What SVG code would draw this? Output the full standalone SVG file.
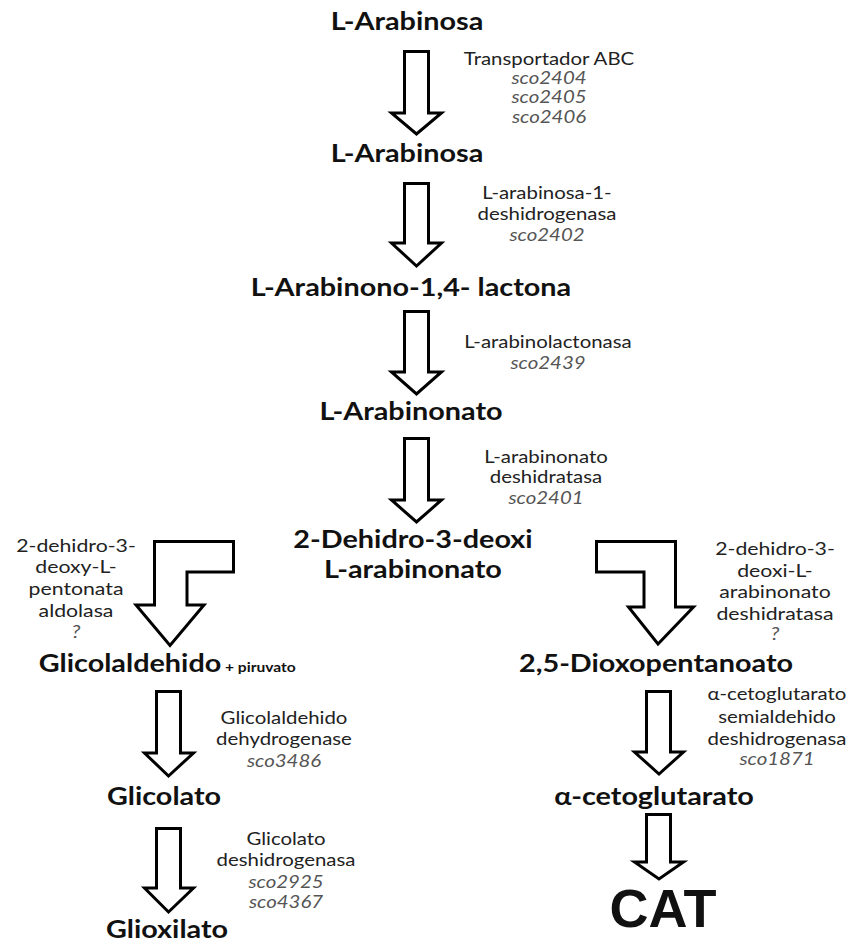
<svg xmlns="http://www.w3.org/2000/svg" width="858" height="945" viewBox="0 0 858 945">
<style>
.c{font-family:Lato,"Open Sans","Liberation Sans",sans-serif;font-weight:bold;font-size:24px;fill:#111;text-anchor:middle}
.e{font-family:Lato,"Open Sans","Liberation Sans",sans-serif;font-size:17px;fill:#222;text-anchor:middle}
.g{font-family:Lato,"Open Sans","Liberation Sans",sans-serif;font-size:17px;font-style:italic;fill:#555;text-anchor:middle}
.p{font-family:Lato,"Open Sans","Liberation Sans",sans-serif;font-size:13px;font-weight:bold;fill:#111}
.a{fill:#fff;stroke:#000;stroke-width:3;stroke-linejoin:miter}
</style>
<rect width="858" height="945" fill="#fff"/>
<g id="connectors">
<polygon class="a" points="404.5,51.5 428.5,51.5 428.5,113 441.5,113 416.5,134 391.5,113 404.5,113"/>
<polygon class="a" points="404.5,183.5 428.5,183.5 428.5,243 441.5,243 416.5,266 391.5,243 404.5,243"/>
<polygon class="a" points="404.5,311.5 428.5,311.5 428.5,372 441.5,372 416.5,394 391.5,372 404.5,372"/>
<polygon class="a" points="404.5,438.5 428.5,438.5 428.5,500 441.5,500 416.5,522 391.5,500 404.5,500"/>
<polygon class="a" points="154.5,541.5 233.5,541.5 233.5,572 187,572 187,605 204,605 170,645.5 136,605 154.5,605"/>
<polygon class="a" points="596.5,541.5 675.5,541.5 675.5,607 693.5,607 658,644 628.5,607 644,607 644,572 596.5,572"/>
<polygon class="a" points="156.5,691.5 180.5,691.5 180.5,753 193.5,753 168.5,776 144.5,753 156.5,753"/>
<polygon class="a" points="156.5,828.5 180.5,828.5 180.5,888 193.5,888 168.5,912 144.5,888 156.5,888"/>
<polygon class="a" points="646.5,691.5 670.5,691.5 670.5,752 683.5,752 659,774 634.5,752 646.5,752"/>
<polygon class="a" points="646.5,814.5 670.5,814.5 670.5,862 683.5,862 659,879 634.5,862 646.5,862"/>
</g>
<g id="n1"><text class="c" transform="translate(407,30) scale(1.2,1)">L-Arabinosa</text></g>
<g id="n2"><text class="c" transform="translate(407,162) scale(1.2,1)">L-Arabinosa</text></g>
<g id="n3"><text class="c" transform="translate(411,296) scale(1.2,1)">L-Arabinono-1,4- lactona</text></g>
<g id="n4"><text class="c" transform="translate(411,420) scale(1.2,1)">L-Arabinonato</text></g>
<g id="n5"><text class="c" transform="translate(413,548) scale(1.2,1)">2-Dehidro-3-deoxi</text><text class="c" transform="translate(413,578) scale(1.2,1)">L-arabinonato</text></g>
<g id="n6"><text class="c" transform="translate(130,672) scale(1.2,1)">Glicolaldehido</text><text class="p" transform="translate(225,672) scale(1.2,1)">+ piruvato</text></g>
<g id="n7"><text class="c" transform="translate(656,672) scale(1.2,1)">2,5-Dioxopentanoato</text></g>
<g id="n8"><text class="c" transform="translate(164,805) scale(1.2,1)">Glicolato</text></g>
<g id="n9"><text class="c" transform="translate(654,805) scale(1.2,1)">α-cetoglutarato</text></g>
<g id="n10"><text class="c" transform="translate(167,938) scale(1.2,1)">Glioxilato</text></g>
<g id="n11"><text x="663" y="927" font-family="'Liberation Sans',Arial,sans-serif" font-weight="bold" font-size="54" fill="#111" text-anchor="middle">CAT</text></g>
<g id="l1"><text class="e" transform="translate(549,65) scale(1.2,1)">Transportador ABC</text><text class="g" transform="translate(549,84) scale(1.2,1)">sco2404</text><text class="g" transform="translate(549,103) scale(1.2,1)">sco2405</text><text class="g" transform="translate(549,123) scale(1.2,1)">sco2406</text></g>
<g id="l2"><text class="e" transform="translate(547,199) scale(1.2,1)">L-arabinosa-1-</text><text class="e" transform="translate(547,220) scale(1.2,1)">deshidrogenasa</text><text class="g" transform="translate(547,241) scale(1.2,1)">sco2402</text></g>
<g id="l3"><text class="e" transform="translate(548,348) scale(1.2,1)">L-arabinolactonasa</text><text class="g" transform="translate(548,369) scale(1.2,1)">sco2439</text></g>
<g id="l4"><text class="e" transform="translate(546,463) scale(1.2,1)">L-arabinonato</text><text class="e" transform="translate(546,483) scale(1.2,1)">deshidratasa</text><text class="g" transform="translate(546,504) scale(1.2,1)">sco2401</text></g>
<g id="l5"><text class="e" transform="translate(76,552) scale(1.25,1)">2-dehidro-3-</text><text class="e" transform="translate(76,573) scale(1.25,1)">deoxy-L-</text><text class="e" transform="translate(76,595) scale(1.25,1)">pentonata</text><text class="e" transform="translate(76,617) scale(1.25,1)">aldolasa</text><text class="g" transform="translate(76,638) scale(1.25,1)">?</text></g>
<g id="l6"><text class="e" transform="translate(775,555) scale(1.25,1)">2-dehidro-3-</text><text class="e" transform="translate(775,577) scale(1.25,1)">deoxi-L-</text><text class="e" transform="translate(775,598) scale(1.25,1)">arabinonato</text><text class="e" transform="translate(775,620) scale(1.25,1)">deshidratasa</text><text class="g" transform="translate(775,640) scale(1.25,1)">?</text></g>
<g id="l7"><text class="e" transform="translate(284,724) scale(1.2,1)">Glicolaldehido</text><text class="e" transform="translate(284,745) scale(1.2,1)">dehydrogenase</text><text class="g" transform="translate(284,767) scale(1.2,1)">sco3486</text></g>
<g id="l8"><text class="e" transform="translate(777,700) scale(1.2,1)">α-cetoglutarato</text><text class="e" transform="translate(777,723) scale(1.2,1)">semialdehido</text><text class="e" transform="translate(777,745) scale(1.2,1)">deshidrogenasa</text><text class="g" transform="translate(777,765) scale(1.2,1)">sco1871</text></g>
<g id="l9"><text class="e" transform="translate(286,845) scale(1.2,1)">Glicolato</text><text class="e" transform="translate(286,866) scale(1.2,1)">deshidrogenasa</text><text class="g" transform="translate(286,888) scale(1.2,1)">sco2925</text><text class="g" transform="translate(286,908) scale(1.2,1)">sco4367</text></g>
</svg>
